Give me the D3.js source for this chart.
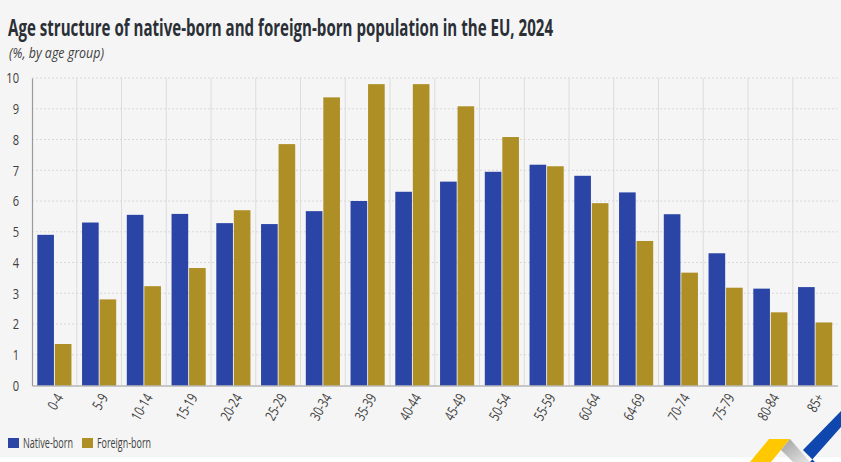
<!DOCTYPE html>
<html>
<head>
<meta charset="utf-8">
<script src="https://cdn.jsdelivr.net/npm/d3@7"></script>
<style>
   html, body { margin: 0; padding: 0; background: #fff; }
   text { font-family: "Open Sans", "Noto Sans", sans-serif; fill: #404040; }
</style>
</head>
<body>
<div id="mainChart"></div>
<script>
const ageGroups = ["0-4", "5-9", "10-14", "15-19", "20-24", "25-29", "30-34", "35-39", "40-44", "45-49", "50-54", "55-59", "60-64", "64-69", "70-74", "75-79", "80-84", "85+"]
const nativeBorn = [4.9, 5.3, 5.55, 5.58, 5.28, 5.25, 5.67, 6.0, 6.3, 6.63, 6.95, 7.18, 6.82, 6.28, 5.57, 4.3, 3.15, 3.2]
const foreignBorn = [1.35, 2.8, 3.23, 3.82, 5.7, 7.85, 9.37, 9.8, 9.8, 9.08, 8.08, 7.13, 5.93, 4.7, 3.67, 3.18, 2.38, 2.05]
const yTicks = [0, 1, 2, 3, 4, 5, 6, 7, 8, 9, 10]
const seriesNames = ["Native-born", "Foreign-born"]
const seriesColors = ["#2a45a5", "#ae8f25"]

const width = 841, height = 462
const margin = { top: 78, right: 3.5, bottom: 76.5, left: 32 }
const innerW = width - margin.left - margin.right
const innerH = height - margin.top - margin.bottom
const narrow = 0.74 // no condensed font installed, so squeeze the small labels

const svg = d3.select("#mainChart").append("svg")
   .attr("width", width)
   .attr("height", height)
   .style("display", "block")

// Grey panel, white strip under it
svg.append("rect").attr("width", width).attr("height", 457).attr("fill", "#f5f5f5")

svg.append("text").attr("x", 8).attr("y", 36)
   .attr("font-size", 22.5).attr("font-weight", 700)
   .attr("textLength", 545).attr("lengthAdjust", "spacingAndGlyphs")
   .style("fill", "#2b2f36")
   .text("Age structure of native-born and foreign-born population in the EU, 2024")

svg.append("text").attr("x", 9).attr("y", 58)
   .attr("font-size", 14.5).attr("font-style", "italic")
   .attr("textLength", 95).attr("lengthAdjust", "spacingAndGlyphs")
   .text("(%, by age group)")

const g = svg.append("g").attr("transform", "translate(" + margin.left + "," + margin.top + ")")

// Scales
const x = d3.scaleBand().domain(ageGroups).range([0, innerW])
const x1 = d3.scaleBand().domain(seriesNames).range([5.3, x.bandwidth() - 5.3]).paddingInner(0.05)
const y = d3.scaleLinear().domain([0, 10]).range([innerH, 0])

// Vertical separators between the age groups
g.append("g").selectAll("line").data(ageGroups.slice(1))
   .join("line")
   .attr("x1", d => x(d)).attr("x2", d => x(d))
   .attr("y1", 0).attr("y2", innerH)
   .attr("stroke", "#dcdcdc").attr("stroke-width", 1)

// Horizontal dashed grid
g.append("g").selectAll("line").data(yTicks.slice(1))
   .join("line")
   .attr("x1", 0).attr("x2", innerW)
   .attr("y1", d => y(d)).attr("y2", d => y(d))
   .attr("stroke", "#d8d8d8").attr("stroke-width", 1).attr("stroke-dasharray", "2 2")

// Bars
const seriesValues = [nativeBorn, foreignBorn]
seriesNames.forEach((name, s) => {
   g.append("g").selectAll("rect").data(seriesValues[s])
      .join("rect")
      .attr("x", (d, i) => x(ageGroups[i]) + x1(name))
      .attr("y", d => y(d))
      .attr("width", x1.bandwidth())
      .attr("height", d => innerH - y(d))
      .attr("fill", seriesColors[s])
})

// Axes
const yAxis = d3.axisLeft(y).tickValues(yTicks).tickSize(0).tickPadding(10)
const yAxisG = g.append("g").call(yAxis)
yAxisG.select(".domain").attr("stroke", "#9a9a9a").attr("stroke-width", 1.2)
yAxisG.selectAll("text")
   .attr("font-size", 15).attr("font-family", null)
   .attr("x", 0)
   .attr("transform", "translate(-13,0) scale(" + narrow + ",1)")

const xAxis = d3.axisBottom(x).tickSize(0)
const xAxisG = g.append("g").attr("transform", "translate(0," + innerH + ")").call(xAxis)
xAxisG.select(".domain").attr("stroke", "#9a9a9a").attr("stroke-width", 1.2)
xAxisG.selectAll("text")
   .attr("font-size", 14.5).attr("font-family", null)
   .attr("text-anchor", "end")
   .attr("dx", 0).attr("dy", 0)
   .attr("transform", "translate(6,10) rotate(-60) scale(" + narrow + ",1)")
   .attr("y", 0).attr("x", 0)
   .attr("dominant-baseline", "middle")

// Legend
const legend = svg.append("g")
const legendX = [8, 82]
const legendLen = [50, 54]
seriesNames.forEach((name, s) => {
   legend.append("rect")
      .attr("x", legendX[s]).attr("y", 438).attr("width", 11).attr("height", 10)
      .attr("fill", seriesColors[s])
   legend.append("text")
      .attr("x", legendX[s] + 15).attr("y", 448)
      .attr("font-size", 14)
      .attr("textLength", legendLen[s]).attr("lengthAdjust", "spacingAndGlyphs")
      .text(name)
})

// Logo in the corner
const logoGrad = svg.append("defs").append("linearGradient").attr("id", "logoGrey")
   .attr("x1", 0).attr("x2", 1).attr("y1", 0).attr("y2", 1)
logoGrad.append("stop").attr("offset", 0).attr("stop-color", "#9f9f9f")
logoGrad.append("stop").attr("offset", 1).attr("stop-color", "#e6e6e6")

const logoShapes = [
   { points: "750,462 769,439 790,439 771,462", fill: "#ffc800" },
   { points: "790,439 781,450 793,462 810,462", fill: "url(#logoGrey)" },
   { points: "803,450 841,411 841,427 810,462 815,462", fill: "#0f47af" }
]
svg.append("g").selectAll("polygon").data(logoShapes)
   .join("polygon")
   .attr("points", d => d.points)
   .attr("fill", d => d.fill)
</script>
</body>
</html>
